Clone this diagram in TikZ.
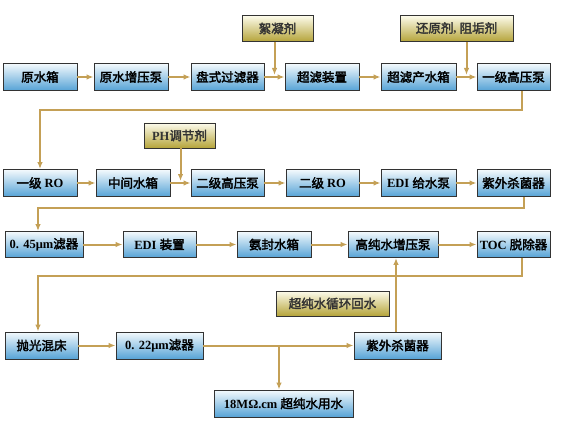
\documentclass[tikz,border=0pt]{standalone}
\usepackage{fontspec}
\setmainfont{Liberation Serif}
\newfontfamily\cjk{Noto Sans CJK SC}[AutoFakeBold=2.5]
\usetikzlibrary{arrows.meta,calc}
\definecolor{boxtop}{HTML}{F4FAFD}
\definecolor{boxbot}{HTML}{56A3D6}
\definecolor{addtop}{HTML}{FDFCEC}
\definecolor{addbot}{HTML}{B5A43A}
\definecolor{flow}{HTML}{C4A056}
\begin{document}
\begin{tikzpicture}[x=1pt,y=-1pt,
  unit/.style={draw=black!80,line width=0.9pt,top color=boxtop,bottom color=boxbot,
    minimum width=74pt,minimum height=27pt,inner sep=0pt,
    font=\bfseries\fontsize{12.5}{14}\selectfont},
  dose/.style={unit,top color=addtop,bottom color=addbot,minimum height=26pt,text=black!80},
  pipe/.style={draw=flow,line width=2pt},
  arr/.style={pipe,-{Latex[length=7pt,width=5.5pt]}}]
  \useasboundingbox (0,0) rectangle (578,433);
  \node[unit] (yxs) at (40,77) {\cjk 原水箱};
  \node[unit] (yzyb) at (131,77) {\cjk 原水增压泵};
  \node[unit,minimum width=73pt] (pslq) at (227.5,77) {\cjk 盘式过滤器};
  \node[unit] (clzz) at (322,77) {\cjk 超滤装置};
  \node[unit,minimum width=75pt] (clcs) at (418.5,77) {\cjk 超滤产水箱};
  \node[unit,minimum width=73pt] (yjgy) at (513.5,77) {\cjk 一级高压泵};
  \node[dose,minimum width=71pt] (xnj) at (277.5,28.5) {\cjk 絮凝剂};
  \node[dose,minimum width=113pt] (hyj) at (456.5,28.5) {{\cjk 还原剂}, {\cjk 阻垢剂}};
  \node[unit] (yjro) at (40,183) {{\cjk 一级} RO};
  \node[unit] (zjsx) at (133,183) {\cjk 中间水箱};
  \node[unit,minimum width=73pt] (ejgy) at (227.5,183) {\cjk 二级高压泵};
  \node[unit,minimum width=73pt] (ejro) at (322.5,183) {{\cjk 二级} RO};
  \node[unit,minimum width=75pt] (edigs) at (418.5,183) {EDI {\cjk 给水泵}};
  \node[unit,minimum width=73pt] (zwsja) at (513.5,183) {\cjk 紫外杀菌器};
  \node[dose,minimum width=71pt,minimum height=25pt] (phj) at (179.5,135.5) {PH{\cjk 调节剂}};
  \node[unit,minimum width=78pt,minimum height=26pt] (lqa) at (44,244.5) {0. 45μm{\cjk 滤器}};
  \node[unit,minimum width=73pt,minimum height=26pt] (edizz) at (159.5,244.5) {EDI {\cjk 装置}};
  \node[unit,minimum height=26pt] (afsx) at (274,244.5) {\cjk 氨封水箱};
  \node[unit,minimum width=90pt,minimum height=26pt] (gczy) at (393,244.5) {\cjk 高纯水增压泵};
  \node[unit,minimum width=73pt,minimum height=26pt] (toc) at (513.5,244.5) {TOC {\cjk 脱除器}};
  \node[unit,minimum width=73pt] (pgh) at (41.5,345.5) {\cjk 抛光混床};
  \node[unit,minimum width=87pt] (lqb) at (159.5,345.5) {0. 22μm{\cjk 滤器}};
  \node[unit,minimum width=87pt] (zwsjb) at (397.5,345.5) {\cjk 紫外杀菌器};
  \node[dose,minimum width=113pt,minimum height=25pt] (xhhs) at (332.5,303.5) {\cjk 超纯水循环回水};
  \node[unit,minimum width=139pt] (ycs) at (283.5,403.5) {18MΩ.cm {\cjk 超纯水用水}};
  \coordinate (ga) at ($(pslq.east)!0.5!(clzz.west)+(0,-2)$);
  \coordinate (gb) at ($(clcs.east)!0.5!(yjgy.west)+(0,-2)$);
  \coordinate (gc) at ($(zjsx.east)!0.5!(ejgy.west)+(0,-2)$);
  \coordinate (ra) at (40,110);
  \coordinate (rb) at (38,208);
  \coordinate (rc) at (38,276);
  \coordinate (br) at (279,345.5);
  \draw[arr] (yxs) -- (yzyb);
  \draw[arr] (yzyb) -- (pslq);
  \draw[arr] (pslq) -- (clzz);
  \draw[arr] (clzz) -- (clcs);
  \draw[arr] (clcs) -- (yjgy);
  \draw[arr] (xnj.south -| ga) -- (ga);
  \draw[arr] (hyj.south -| gb) -- (gb);
  \draw[arr] ([xshift=8pt]yjgy.south) |- (ra) -- (yjro);
  \draw[arr] (yjro) -- (zjsx);
  \draw[arr] (zjsx) -- (ejgy);
  \draw[arr] (ejgy) -- (ejro);
  \draw[arr] (ejro) -- (edigs);
  \draw[arr] (edigs) -- (zwsja);
  \draw[arr] (phj.south -| gc) -- (gc);
  \draw[arr] ([xshift=10pt]zwsja.south) |- (rb) -- (rb |- lqa.north);
  \draw[arr] (lqa) -- (edizz);
  \draw[arr] (edizz) -- (afsx);
  \draw[arr] (afsx) -- (gczy);
  \draw[arr] (gczy) -- (toc);
  \draw[arr] ([xshift=8pt]toc.south) |- (rc) -- (rc |- pgh.north);
  \draw[arr] (pgh) -- (lqb);
  \draw[arr] (lqb) -- (zwsjb);
  \draw[arr] (br) -- (br |- ycs.north);
  \draw[arr] ([xshift=-1.5pt]zwsjb.north) -- ([xshift=-1.5pt]zwsjb.north |- gczy.south);
\end{tikzpicture}
\end{document}
